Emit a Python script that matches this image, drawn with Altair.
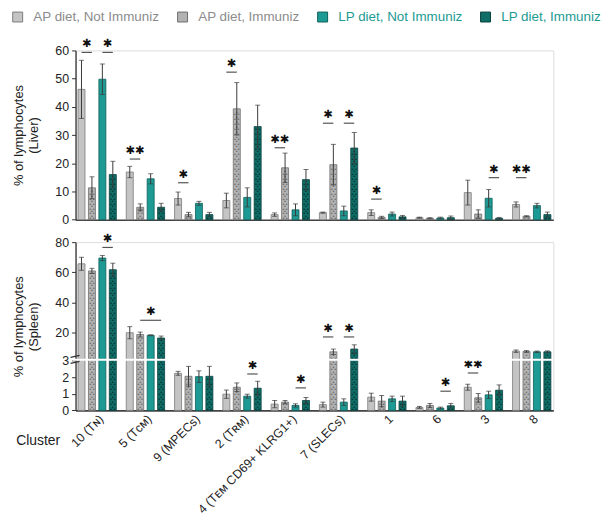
import altair as alt
import pandas as pd

# ---------------- data ----------------
clusters = ["10 (Tɴ)", "5 (Tᴄᴍ)", "9 (MPECs)", "2 (Tʀᴍ)", "4 (Tᴇᴍ CD69+ KLRG1+)",
            "7 (SLECs)", "1", "6", "3", "8"]
groups = ["AP diet, Not Immuniz", "AP diet, Immuniz", "LP diet, Not Immuniz", "LP diet, Immuniz"]

bar_colors = ["#c4c4c4", "#b2b2b2", "#1d9a93", "#0f6d67"]
stroke_colors = ["#7c7c7c", "#6e6e6e", "#0f5f5a", "#083f3c"]
dot_colors = ["#c4c4c4", "#6a6a6a", "#1d9a93", "#032f2c"]

# Liver (% of lymphocytes): mean and SEM per group, in cluster order
liver_ap_ni = [46.2, 16.9, 7.5, 6.8, 1.8, 2.5, 2.5, 0.7, 9.6, 5.4]
liver_ap_i = [11.3, 4.4, 1.8, 39.3, 18.4, 19.5, 0.8, 0.5, 2.0, 1.2]
liver_lp_ni = [49.8, 14.5, 5.8, 7.9, 3.5, 3.1, 2.0, 0.6, 7.6, 5.0]
liver_lp_i = [16.0, 4.4, 1.8, 33.0, 14.2, 25.4, 1.0, 0.7, 0.5, 1.8]
liver_ap_ni_err = [10.3, 2.0, 2.3, 2.6, 0.6, 0.2, 1.0, 0.2, 4.4, 0.9]
liver_ap_i_err = [3.9, 1.2, 0.8, 9.3, 5.2, 7.2, 0.4, 0.2, 1.5, 0.2]
liver_lp_ni_err = [5.4, 1.8, 0.7, 3.4, 2.1, 1.7, 0.7, 0.3, 3.1, 0.8]
liver_lp_i_err = [4.7, 1.4, 0.8, 7.6, 3.6, 5.5, 0.5, 0.6, 0.3, 0.9]

# Spleen
spleen_ap_ni = [65.7, 20.2, 2.24, 0.98, 0.38, 0.35, 0.80, 0.18, 1.40, 8.0]
spleen_ap_i = [61.0, 19.0, 2.06, 1.40, 0.50, 7.6, 0.56, 0.30, 0.76, 7.8]
spleen_lp_ni = [69.5, 18.5, 2.04, 0.86, 0.30, 0.50, 0.70, 0.14, 0.94, 7.6]
spleen_lp_i = [61.8, 16.7, 2.06, 1.34, 0.60, 9.4, 0.56, 0.28, 1.22, 7.6]
spleen_ap_ni_err = [4.3, 4.0, 0.12, 0.25, 0.22, 0.15, 0.24, 0.06, 0.18, 0.8]
spleen_ap_i_err = [1.7, 1.6, 0.60, 0.26, 0.10, 1.8, 0.34, 0.12, 0.26, 0.6]
spleen_lp_ni_err = [1.7, 0.3, 0.35, 0.12, 0.10, 0.20, 0.16, 0.06, 0.22, 0.5]
spleen_lp_i_err = [4.3, 1.3, 0.60, 0.42, 0.18, 2.8, 0.30, 0.14, 0.32, 0.6]

# significance annotations: cluster index, compared bars, bracket height, label
liver_sig_cluster = [0, 0, 1, 2, 3, 4, 5, 5, 6, 8, 9]
liver_sig_pair = ["01", "23", "01", "01", "01", "01", "01", "23", "01", "23", "01"]
liver_sig_y = [59.3, 59.3, 21.5, 13.1, 52.3, 25.5, 34.2, 34.2, 7.3, 14.9, 14.9]
liver_sig_label = ["✱", "✱", "✱✱", "✱", "✱", "✱✱", "✱", "✱", "✱", "✱", "✱✱"]

spleen_sig_cluster = [0, 1, 3, 4, 5, 5, 7, 8]
spleen_sig_pair = ["23", "13", "23", "23", "01", "23", "23", "01"]
spleen_sig_y = [76.5, 28.4, 2.2, 1.36, 17.4, 17.4, 1.16, 2.26]
spleen_sig_label = ["✱", "✱", "✱", "✱", "✱", "✱", "✱", "✱✱"]

liver_ticks = [0, 10, 20, 30, 40, 50, 60]
spleen_ticks = [0, 1, 2, 3, 20, 40, 60, 80]


def bar_table(means, errs):
    rows = []
    for g, m, e in zip(groups, means, errs):
        for c, v, s in zip(clusters, m, e):
            rows.append(dict(cluster=c, group=g, value=v, lo=max(0.0, v - s), hi=v + s))
    return pd.DataFrame(rows)


def sig_table(idx, pair, y, label):
    return pd.DataFrame(dict(cluster=[clusters[i] for i in idx], pair=pair, y=y, label=label))


liver_df = bar_table([liver_ap_ni, liver_ap_i, liver_lp_ni, liver_lp_i],
                     [liver_ap_ni_err, liver_ap_i_err, liver_lp_ni_err, liver_lp_i_err])
spleen_df = bar_table([spleen_ap_ni, spleen_ap_i, spleen_lp_ni, spleen_lp_i],
                      [spleen_ap_ni_err, spleen_ap_i_err, spleen_lp_ni_err, spleen_lp_i_err])
liver_sig = sig_table(liver_sig_cluster, liver_sig_pair, liver_sig_y, liver_sig_label)
spleen_sig = sig_table(spleen_sig_cluster, spleen_sig_pair, spleen_sig_y, spleen_sig_label)

# ---------------- layout ----------------
W = 481
H_LIVER = 170.4
H_SPLEEN = 169.4
FONT = "Liberation Sans"

x_scale = alt.Scale(type="band", domain=clusters, paddingInner=0.135, paddingOuter=0.015)
xo_scale = alt.Scale(domain=groups, paddingInner=0.33, paddingOuter=0.165)

x_axis_top = alt.Axis(title=None, labels=False, ticks=False, domainColor="#444", domainWidth=1.6)
x_axis_bottom = alt.Axis(title="Cluster", labels=True, ticks=False, domainColor="#444", domainWidth=1.6,
                         labelAngle=-45, labelFontSize=12.4, labelColor="#222", labelPadding=2,
                         labelFont=FONT, titleFont=FONT,
                         titleAngle=0, titleX=-16, titleY=30, titleAlign="right", titleBaseline="middle",
                         titleFontWeight="normal", titleFontSize=14, titleColor="#222")


def y_axis(title, ticks):
    return alt.Axis(title=title, values=ticks, tickCount=20, grid=False, domainColor="#333", domainWidth=1.3,
                    tickColor="#333", tickSize=4, labelFontSize=12.5, labelColor="#222", labelFont=FONT,
                    labelOverlap=False, labelPadding=3,
                    titleFont=FONT, titleFontSize=13, titleFontWeight="normal", titleColor="#222",
                    titlePadding=14, titleLineHeight=15)


legend = alt.Legend(title=None, orient="none", legendX=-65, legendY=-40.5, direction="horizontal",
                    symbolType="square", symbolSize=100, symbolStrokeColor="#555", symbolStrokeWidth=1,
                    labelFontSize=13.5, labelFont=FONT, labelOffset=9, columnPadding=15,
                    labelColor=alt.ExprRef(expr="indexof(datum.label, 'LP') == 0 ? '#1d9a93' : '#8c8c8c'"))

band_pos = {"01": (0.125, 0.375), "23": (0.625, 0.875), "13": (0.375, 0.875)}


def panel(df, sig, yscale, yax, xax, height, n_expr, y_expr, extra=None):
    X = alt.X("cluster:N", scale=x_scale, axis=xax)
    XO = alt.XOffset("group:N", scale=xo_scale)

    def Y(field):
        return alt.Y(field, type="quantitative", scale=yscale, axis=yax)

    bars = alt.Chart(df).mark_bar(strokeWidth=0.8).encode(
        x=X, xOffset=XO, y=Y("value"), y2=alt.datum(0),
        color=alt.Color("group:N", scale=alt.Scale(domain=groups, range=bar_colors), legend=legend),
        stroke=alt.Stroke("group:N", scale=alt.Scale(domain=groups, range=stroke_colors), legend=None),
    )

    dots_base = (
        alt.Chart(df)
        .transform_filter(alt.FieldOneOfPredicate(field="group", oneOf=[groups[1], groups[3]]))
        .transform_calculate(nl=n_expr[0], nu=n_expr[1])
        .transform_calculate(k="sequence(0, datum.nl + datum.nu)")
        .transform_flatten(["k"])
        .transform_calculate(dpos=y_expr, odd="datum.k % 2")
    )
    dot_layers = []
    for parity, dxs in ((0, (-1.75, 1.75)), (1, (0.0,))):
        for dx in dxs:
            dot_layers.append(
                dots_base.transform_filter(f"datum.odd == {parity}")
                .mark_text(text="•", fontSize=5.5, baseline="middle", align="center", dx=dx)
                .encode(x=X, xOffset=XO, y=Y("dpos"),
                        fill=alt.Fill("group:N", scale=alt.Scale(domain=groups, range=dot_colors), legend=None))
            )

    err = alt.Chart(df).mark_rule(color="#3a3a3a", strokeWidth=1).encode(
        x=X, xOffset=XO, y=Y("lo"), y2="hi:Q")
    cap_hi = alt.Chart(df).mark_tick(orient="horizontal", size=5, thickness=1, color="#3a3a3a").encode(
        x=X, xOffset=XO, y=Y("hi"))
    cap_lo = alt.Chart(df).mark_tick(orient="horizontal", size=5, thickness=1, color="#3a3a3a").encode(
        x=X, xOffset=XO, y=Y("lo"))

    sig_layers = []
    for p, (a, b) in band_pos.items():
        sdf = sig[sig["pair"] == p]
        if len(sdf) == 0:
            continue
        sig_layers.append(
            alt.Chart(sdf).mark_rule(color="#555", strokeWidth=1.2).encode(
                x=alt.X("cluster:N", scale=x_scale, axis=xax, bandPosition=a),
                x2=alt.X2("cluster:N", bandPosition=b),
                y=Y("y"))
        )
        sig_layers.append(
            alt.Chart(sdf).mark_text(font="DejaVu Sans", fontSize=11.5, baseline="middle", dy=-8,
                                     color="#111").encode(
                x=alt.X("cluster:N", scale=x_scale, axis=xax, bandPosition=(a + b) / 2),
                y=Y("y"), text="label:N")
        )

    layers = [bars] + dot_layers + [err, cap_hi, cap_lo] + sig_layers
    if extra:
        layers += extra()
    return alt.layer(*layers).properties(width=W, height=height)


liver = panel(
    liver_df, liver_sig,
    alt.Scale(domain=[0, 60], nice=False, zero=True),
    y_axis(["% of lymphocytes", "(Liver)"], liver_ticks),
    x_axis_top, H_LIVER,
    ("floor(datum.value / 0.88)", "0"),
    "(datum.k + 0.5) * 0.88",
)


def spleen_break():
    one = pd.DataFrame({"mark": ["break"]})
    white = alt.Chart(one).mark_rule(color="white", strokeWidth=2.2).encode(
        x=alt.value(-3), x2=alt.value(W), y=alt.Y(datum=3.0005))
    s1 = alt.Chart(one).mark_rule(color="#333", strokeWidth=1.2).encode(
        x=alt.value(-5), x2=alt.value(4), y=alt.Y(datum=2.84), y2=alt.Y2(datum=2.96))
    s2 = alt.Chart(one).mark_rule(color="#333", strokeWidth=1.2).encode(
        x=alt.value(-5), x2=alt.value(4), y=alt.Y(datum=3.9), y2=alt.Y2(datum=5.2))
    return [white, s1, s2]


spleen = panel(
    spleen_df, spleen_sig,
    alt.Scale(domain=[0, 3, 3.001, 80], range=[H_SPLEEN, 119.4, 117.4, 0], nice=False, zero=False),
    y_axis(["% of lymphocytes", "(Spleen)"], spleen_ticks),
    x_axis_bottom, H_SPLEEN,
    ("floor(min(datum.value, 3) / 0.15)", "datum.value > 3 ? floor((datum.value - 3) / 1.64) : 0"),
    "datum.k < datum.nl ? (datum.k + 0.5) * 0.15 : 3 + (datum.k - datum.nl + 0.5) * 1.64",
    extra=spleen_break,
)

chart = (
    alt.vconcat(liver, spleen, spacing=22, bounds="flush")
    .properties(padding={"left": 3, "top": 0, "right": 0, "bottom": 0})
    .configure_view(stroke=None)
    .configure(font=FONT)
)

chart.save("out.html", embed_options={"renderer": "svg", "actions": False})
